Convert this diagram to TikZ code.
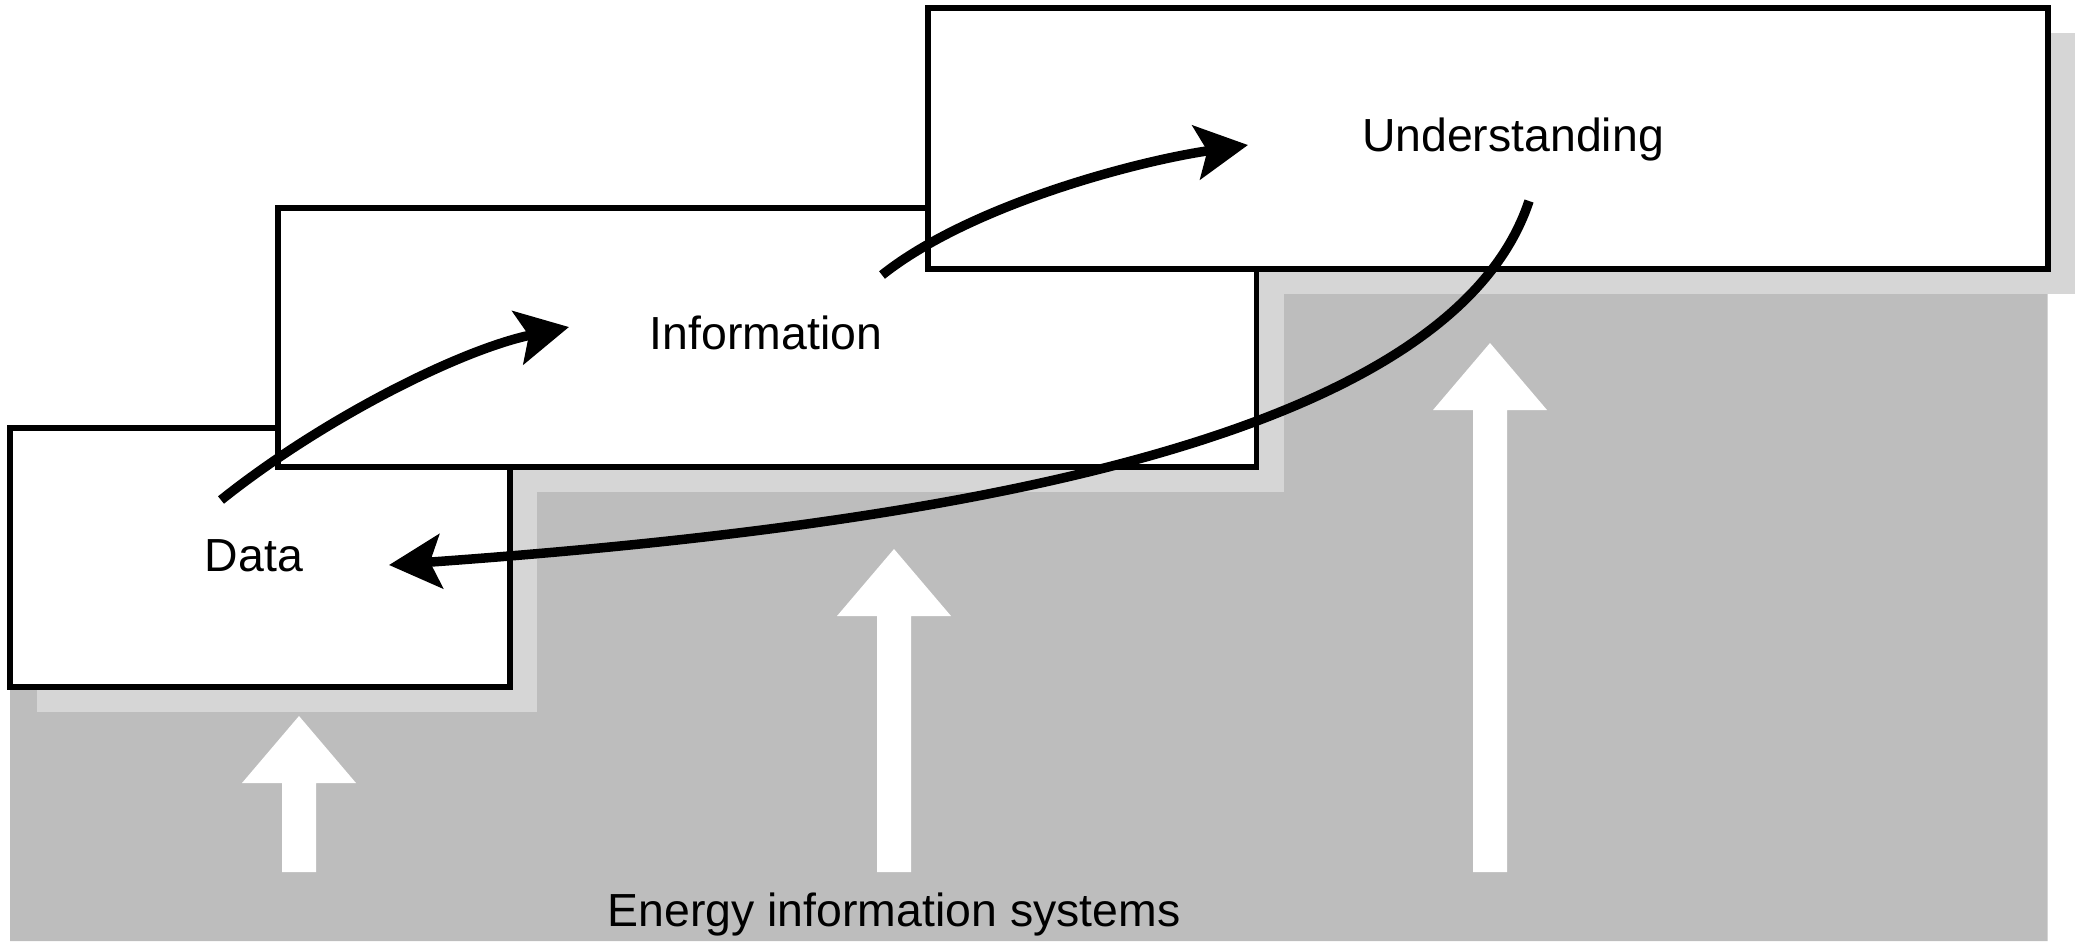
\documentclass[tikz,border=0pt]{standalone}
\usepackage{fontspec}
\setmainfont{Liberation Sans}
\usetikzlibrary{arrows.meta,backgrounds,calc}
\definecolor{darkbg}{RGB}{189,189,189}
\definecolor{shadowgrey}{RGB}{214,214,214}
\tikzset{
  box/.style={draw=black, line width=0.058cm, fill=white, inner sep=0pt, outer sep=0pt, anchor=north west},
  lbl/.style={font=\fontsize{13.2}{15}\selectfont, text=black, inner sep=0pt, anchor=base},
  flow/.style={line width=0.095cm, -{Stealth[length=0.52cm,width=0.54cm,inset=0.11cm]}},
  uparrow/.style={fill=white, draw=none},
  shadowbox/.style={fill=shadowgrey, draw=none},
}
\begin{document}
\begin{tikzpicture}[x=0.01cm,y=-0.01cm]
\useasboundingbox (0,0) rectangle (2076,941);
% boxes
\node[box, minimum width=5cm, minimum height=2.59cm] (data) at (10,428) {};
\node[box, minimum width=9.78cm, minimum height=2.59cm] (info) at (278,208) {};
\node[box, minimum width=11.19cm, minimum height=2.61cm] (und) at (928,8) {};
% background: grey staircase and shadows
\begin{scope}[on background layer]
  \fill[white] (0,0) rectangle (2076,941);
  \fill[darkbg] (10,941) -- (data.south west) -- (data.south east) -- (data.south east |- info.south)
     -- (info.south east) -- (info.south east |- und.south) -- (und.south east) -- (und.south east |- 0,941) -- cycle;
  \foreach \n in {data,info,und}
    \fill[shadowbox] ([shift={(27,25)}]\n.north west) rectangle ([shift={(27,25)}]\n.south east);
\end{scope}
% white upward arrows
\foreach \cx/\ty in {299/716, 894/549, 1490/343}
  \fill[uparrow] (\cx,\ty) -- ({\cx+57},{\ty+67}) -- ({\cx+17},{\ty+67}) -- ({\cx+17},872)
     -- ({\cx-17},872) -- ({\cx-17},{\ty+67}) -- ({\cx-57},{\ty+67}) -- cycle;
% labels
\node[lbl] (tdata) at (254,571) {Data};
\node[lbl] (tinfo) at (766,349) {Information};
\node[lbl] (tund) at (1513,151) {Understanding};
\node[lbl] (teis) at (894,926) {Energy information systems};
% curved arrows
\coordinate (a1s) at (221,500); \coordinate (a1e) at (569,327);
\coordinate (a2s) at (882,275); \coordinate (a2e) at (1248,145);
\coordinate (a3s) at (1529,201); \coordinate (a3e) at (389,565);
\draw[flow] (a1s) .. controls (321,420) and (459,350) .. (a1e);
\draw[flow] (a2s) .. controls (970,205) and (1137,161) .. (a2e);
\draw[flow] (a3s) .. controls (1450,440) and (950,525) .. (a3e);
\end{tikzpicture}
\end{document}
